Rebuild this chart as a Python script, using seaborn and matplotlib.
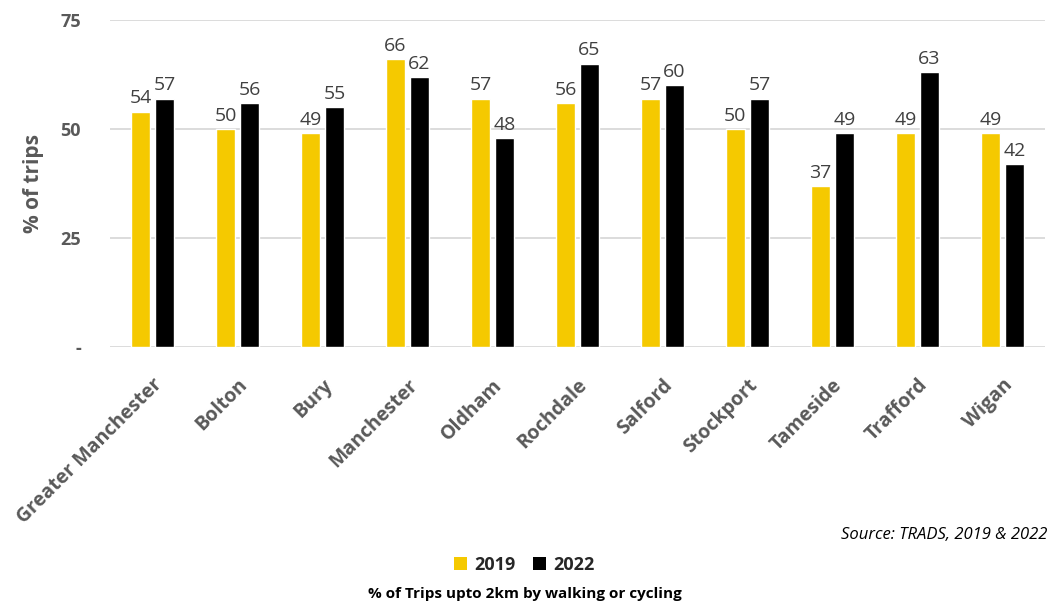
import matplotlib
matplotlib.use("Agg")
import matplotlib.pyplot as plt
import seaborn as sns
import pandas as pd
from matplotlib.patches import Patch

areas = ["Greater Manchester", "Bolton", "Bury", "Manchester", "Oldham", "Rochdale",
         "Salford", "Stockport", "Tameside", "Trafford", "Wigan"]
values_2019 = [54, 50, 49, 66, 57, 56, 57, 50, 37, 49, 49]
values_2022 = [57, 56, 55, 62, 48, 65, 60, 57, 49, 63, 42]
years = ["2019", "2022"]
yticks = [0, 25, 50, 75]
ytick_labels = ["-", "25", "50", "75"]

df = pd.DataFrame({
    "area": areas * 2,
    "year": [years[0]] * len(areas) + [years[1]] * len(areas),
    "value": values_2019 + values_2022,
})

sns.set_theme(style="white")
plt.rcParams["font.family"] = ["Open Sans", "DejaVu Sans"]

colors = {"2019": "#F5C900", "2022": "#000000"}
fig = plt.figure(figsize=(10.49, 6.06), dpi=100)
ax = fig.add_axes([0.105, 0.427, 0.891, 0.54])
sns.barplot(data=df, x="area", y="value", hue="year", palette=colors, ax=ax,
            width=0.565, gap=0.19, legend=False, saturation=1)

for c in ax.containers:
    ax.bar_label(c, labels=[f"{v:.0f}" for v in c.datavalues], padding=3,
                 fontsize=14, color="#404040")

ax.set_ylim(0, 75)
ax.set_xlim(-0.5, len(areas) - 0.5)
ax.set_yticks(yticks)
ax.set_yticklabels(ytick_labels, fontsize=13, fontweight="bold", color="#595959")
ax.yaxis.grid(True, color="#D9D9D9", linewidth=1.3)
ax.set_axisbelow(True)
for s in ax.spines.values():
    s.set_visible(False)
ax.tick_params(axis="y", length=0, pad=21)
ax.tick_params(axis="x", length=0, pad=20)
plt.setp(ax.get_xticklabels(), rotation=45, ha="right", rotation_mode="anchor",
         fontsize=14, fontweight="bold", color="#595959")
ax.set_xlabel("")
ax.set_ylabel("% of trips", fontsize=15, fontweight="bold", color="#595959", labelpad=12)

fig.text(0.998, 0.117, "Source: TRADS, 2019 & 2022", ha="right", va="center",
         fontsize=12, style="italic", color="#000000")
handles = [Patch(facecolor=colors[y], edgecolor="none") for y in years]
fig.legend(handles, years, loc="center", bbox_to_anchor=(0.5, 0.068), ncol=2,
           frameon=False, prop={"weight": "bold", "size": 13}, handlelength=0.7,
           handleheight=0.7, handletextpad=0.4, columnspacing=1.0)
fig.text(0.5, 0.02, "% of Trips upto 2km by walking or cycling", ha="center",
         va="center", fontsize=11, fontweight="bold", color="#000000")

fig.savefig("out.png", dpi=100)
